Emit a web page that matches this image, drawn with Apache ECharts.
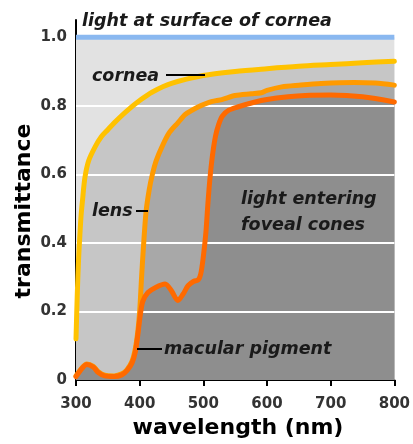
<!DOCTYPE html>
<html><head><meta charset="utf-8">
<script src="https://cdn.jsdelivr.net/npm/echarts@6/dist/echarts.min.js"></script>
<style>html,body{margin:0;padding:0;background:#fff}#c{width:413px;height:444px}</style>
</head><body><div id="c"></div>
<script>
// ---- data ----
const xTicks = [300, 400, 500, 600, 700, 800];
const yTickValues = [0, 0.2, 0.4, 0.6, 0.8, 1.0];
const yTickLabels = ['0', '0.2', '0.4', '0.6', '0.8', '1.0'];
const gridLevels = [0.2, 0.4, 0.6, 0.8];

const surfaceWl = [300, 800];
const surfaceVal = [1.0, 1.0];

const corneaWl = [300, 302, 304, 306, 308, 310, 314, 320, 330, 340, 350, 360, 380, 400, 420, 450, 500, 550, 600, 650, 700, 750, 800];
const corneaVal = [0.12, 0.25, 0.35, 0.42, 0.48, 0.52, 0.59, 0.64, 0.68, 0.71, 0.73, 0.75, 0.785, 0.815, 0.84, 0.865, 0.888, 0.9, 0.908, 0.915, 0.92, 0.925, 0.93];

const lensWl = [300, 310, 317, 327, 335, 345, 360, 372, 380, 388, 393, 397, 400, 403, 406, 410, 415, 420, 426, 435, 446, 460, 472, 490, 509, 520, 529, 550, 575, 591, 600, 623, 650, 685, 737, 770, 800];
const lensVal = [0.012, 0.037, 0.047, 0.04, 0.024, 0.014, 0.012, 0.018, 0.03, 0.055, 0.09, 0.14, 0.2, 0.3, 0.39, 0.49, 0.555, 0.6, 0.64, 0.68, 0.72, 0.75, 0.775, 0.795, 0.81, 0.815, 0.818, 0.83, 0.835, 0.838, 0.845, 0.855, 0.86, 0.865, 0.868, 0.866, 0.86];

const macularWl = [300, 310, 317, 327, 335, 345, 360, 372, 380, 388, 393, 397, 401, 405, 413, 425, 440, 450, 460, 468, 476, 485, 492, 496, 500, 504, 507, 510, 514, 519, 524, 530, 540, 555, 580, 600, 633, 660, 700, 750, 800];
const macularVal = [0.01, 0.035, 0.045, 0.038, 0.022, 0.012, 0.01, 0.015, 0.027, 0.05, 0.08, 0.13, 0.19, 0.23, 0.255, 0.27, 0.28, 0.26, 0.232, 0.25, 0.275, 0.288, 0.292, 0.31, 0.36, 0.43, 0.51, 0.58, 0.65, 0.71, 0.745, 0.77, 0.787, 0.797, 0.81, 0.818, 0.826, 0.83, 0.831, 0.826, 0.811];

// ---- chart ----
const pairs = (xs, ys) => xs.map((x, i) => [x, ys[i]]);
const FONT = '"DejaVu Sans", sans-serif';
const SM = 0.3;

function fill(name, xs, ys, color) {
  return {
    name: name, type: 'line', data: pairs(xs, ys), smooth: SM, symbol: 'none', z: 1,
    lineStyle: { width: 0 }, areaStyle: { color: color, opacity: 1, origin: 'start' }, silent: true
  };
}
function curve(name, xs, ys, color) {
  return {
    name: name, type: 'line', data: pairs(xs, ys), smooth: SM, symbol: 'none', z: 3,
    lineStyle: { width: 5, color: color, cap: 'round', join: 'round' }, silent: true
  };
}
function label(text, x, y) {
  return { type: 'text', z: 100, x: x, y: y, silent: true,
    style: { text: text, font: 'italic bold 17.5px ' + FONT, fill: '#1a1a1a', textAlign: 'left', textVerticalAlign: 'middle', verticalAlign: 'middle' } };
}
function tick(x1, y1, x2, y2) {
  return { type: 'line', z: 100, silent: true, shape: { x1: x1, y1: y1, x2: x2, y2: y2 }, style: { stroke: '#000', lineWidth: 2 } };
}

const chart = echarts.init(document.getElementById('c'), null, { renderer: 'canvas' });
chart.setOption({
  animation: false,
  backgroundColor: '#ffffff',
  grid: { left: 76, right: 16, top: 20, bottom: 64, containLabel: false },
  xAxis: {
    type: 'value', min: 300, max: 800, interval: 100,
    axisLine: { show: true, lineStyle: { color: '#000', width: 2 } },
    axisTick: { show: true, length: 6, lineStyle: { color: '#000', width: 2 } },
    axisLabel: { margin: 17, color: '#333', fontSize: 15, fontWeight: 'bold', fontFamily: FONT,
      formatter: v => (xTicks.indexOf(v) >= 0 ? String(v) : '') },
    splitLine: { show: false }
  },
  yAxis: {
    type: 'value', min: 0, max: 1.05, interval: 0.2,
    axisLine: { show: true, onZero: false, lineStyle: { color: '#000', width: 2 } },
    axisTick: { show: false },
    axisLabel: { margin: 9, color: '#333', fontSize: 15, fontWeight: 'bold', fontFamily: FONT,
      formatter: v => { const i = yTickValues.findIndex(t => Math.abs(t - v) < 1e-6); return i >= 0 ? yTickLabels[i] : ''; } },
    splitLine: { show: false }
  },
  series: [
    fill('surfaceFill', surfaceWl, surfaceVal, '#e2e2e2'),
    fill('corneaFill', corneaWl, corneaVal, '#c6c6c6'),
    fill('lensFill', lensWl, lensVal, '#a8a8a8'),
    fill('macularFill', macularWl, macularVal, '#8e8e8e'),
    {
      name: 'surface', type: 'line', data: pairs(surfaceWl, surfaceVal), symbol: 'none', z: 2, silent: true,
      lineStyle: { width: 5, color: '#8ab8f0' },
      markLine: {
        silent: true, z: 2, symbol: ['none', 'none'], label: { show: false },
        lineStyle: { color: '#ffffff', width: 2, type: 'solid' },
        data: gridLevels.map(v => ({ yAxis: v }))
      }
    },
    curve('cornea', corneaWl, corneaVal, '#ffc200'),
    curve('lens', lensWl, lensVal, '#ff9a00'),
    curve('macular', macularWl, macularVal, '#ff6a00')
  ],
  graphic: [
    label('light at surface of cornea', 82, 21),
    label('cornea', 92, 76),
    tick(166, 75, 205, 75),
    label('lens', 92, 211),
    tick(136, 211, 148, 211),
    label('light entering', 241, 199),
    label('foveal cones', 241, 225),
    label('macular pigment', 164, 349),
    tick(137, 349, 162, 349),
    { type: 'text', z: 100, x: 24, y: 211, rotation: Math.PI / 2, silent: true, style: { text: 'transmittance', font: 'bold 22px ' + FONT, fill: '#000', textAlign: 'center', textVerticalAlign: 'middle', verticalAlign: 'middle' } },
    { type: 'text', z: 100, x: 238, y: 428, silent: true, style: { text: 'wavelength (nm)', font: 'bold 22px ' + FONT, fill: '#000', textAlign: 'center', textVerticalAlign: 'middle', verticalAlign: 'middle' } }
  ]
});
</script>
</body></html>
